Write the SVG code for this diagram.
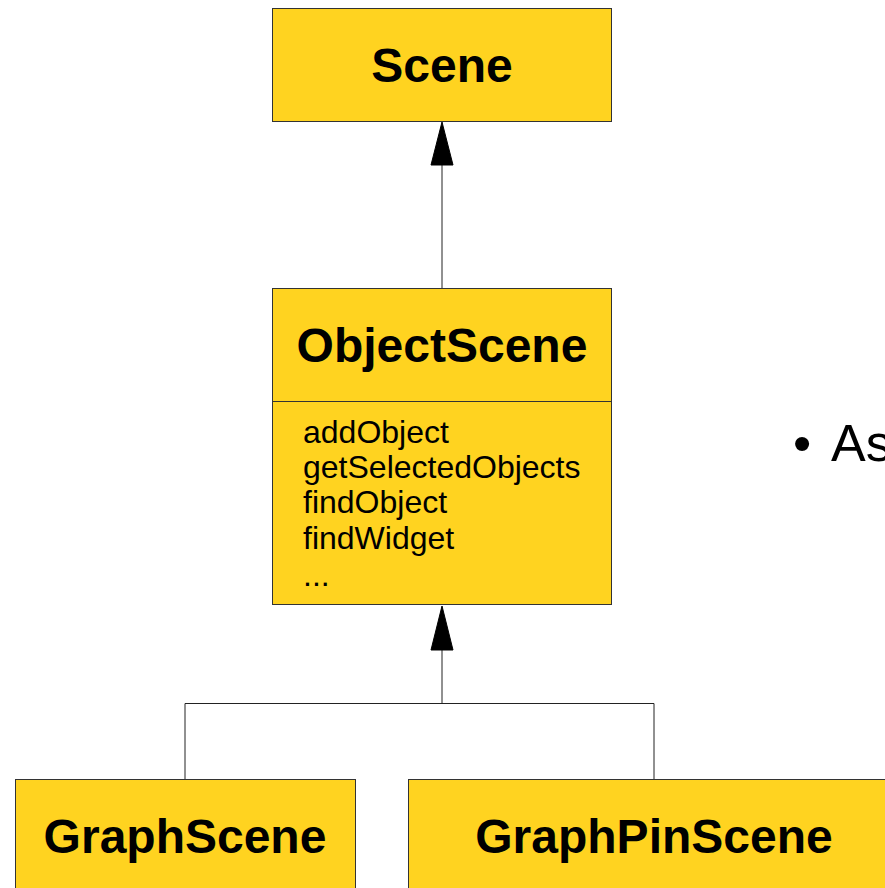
<svg xmlns="http://www.w3.org/2000/svg" width="885" height="888" viewBox="0 0 885 888">
<style>
.box{fill:#ffd320;stroke:#333;stroke-width:1}
.title{font-family:"Liberation Sans",Arial,sans-serif;font-weight:bold;font-size:48px;fill:#000;text-anchor:middle}
.meth{font-family:"Liberation Sans",Arial,sans-serif;font-size:32px;fill:#000}
.conn{fill:none;stroke:#222;stroke-width:1}
.head{fill:#000;stroke:#000;stroke-width:1;stroke-linejoin:round}
.bullet{font-family:"Liberation Sans",Arial,sans-serif;font-size:52px;fill:#000}
</style>
<rect width="885" height="888" fill="#fff"/>
<g id="connectors">
<line class="conn" x1="442" y1="288" x2="442" y2="164"/>
<polygon class="head" points="442,122 453,165 431,165"/>
<polyline class="conn" points="185,779 185,703.5 654,703.5 654,779"/>
<line class="conn" x1="442" y1="703.5" x2="442" y2="649"/>
<polygon class="head" points="442,606 453,650 431,650"/>
</g>
<g id="Scene">
<rect class="box" x="272.5" y="8.5" width="339" height="113"/>
<text class="title" x="442" y="82">Scene</text>
</g>
<g id="ObjectScene">
<rect class="box" x="272.5" y="288.5" width="339" height="316"/>
<line x1="272.5" y1="401.5" x2="611.5" y2="401.5" stroke="#333" stroke-width="1"/>
<text class="title" x="442" y="362">ObjectScene</text>
<text class="meth" x="303" y="443">addObject</text>
<text class="meth" x="303" y="478">getSelectedObjects</text>
<text class="meth" x="303" y="513">findObject</text>
<text class="meth" x="303" y="549">findWidget</text>
<text class="meth" x="303" y="586">...</text>
</g>
<g id="GraphScene">
<rect class="box" x="15.5" y="779.5" width="340" height="120"/>
<text class="title" x="185" y="853">GraphScene</text>
</g>
<g id="GraphPinScene">
<rect class="box" x="408.5" y="779.5" width="492" height="120"/>
<text class="title" x="654" y="853">GraphPinScene</text>
</g>
<g id="bullet">
<text class="bullet" x="793" y="461">•</text>
<text class="bullet" x="831" y="461">As</text>
</g>
</svg>
